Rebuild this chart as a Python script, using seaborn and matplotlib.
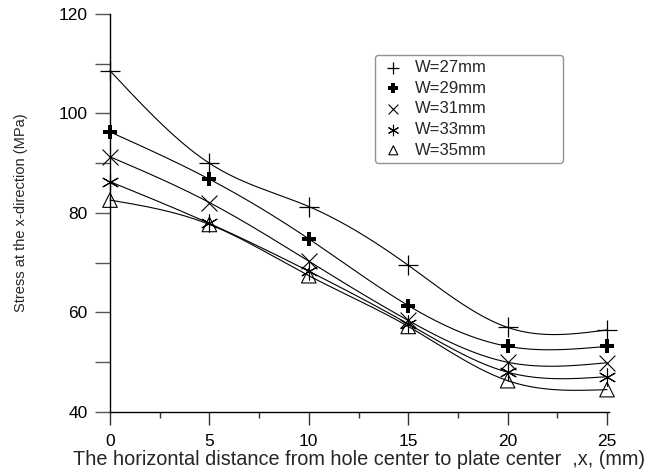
import numpy as np
import pandas as pd
import matplotlib
matplotlib.use("Agg")
import matplotlib.pyplot as plt
import seaborn as sns
from matplotlib.ticker import MultipleLocator

# ---------------- data ----------------
x_mm = [0, 5, 10, 15, 20, 25]
w27 = [108.6, 90.0, 81.3, 69.5, 57.0, 56.5]
w29 = [96.3, 86.8, 74.8, 61.4, 53.2, 53.2]
w31 = [91.3, 82.1, 70.3, 58.4, 50.0, 49.9]
w33 = [86.3, 77.9, 68.3, 57.7, 48.0, 47.1]
w35 = [82.6, 77.7, 67.4, 57.2, 46.3, 44.5]
labels = ["W=27mm", "W=29mm", "W=31mm", "W=33mm", "W=35mm"]
series = [w27, w29, w31, w33, w35]


def natural_spline(x, y, xs):
    x = np.asarray(x, float)
    y = np.asarray(y, float)
    n = len(x)
    h = np.diff(x)
    A = np.zeros((n, n))
    b = np.zeros(n)
    A[0, 0] = 1
    A[-1, -1] = 1
    for i in range(1, n - 1):
        A[i, i - 1] = h[i - 1]
        A[i, i] = 2 * (h[i - 1] + h[i])
        A[i, i + 1] = h[i]
        b[i] = 3 * ((y[i + 1] - y[i]) / h[i] - (y[i] - y[i - 1]) / h[i - 1])
    c = np.linalg.solve(A, b)
    out = np.empty_like(xs)
    for k, xv in enumerate(xs):
        i = min(max(np.searchsorted(x, xv) - 1, 0), n - 2)
        dx = xv - x[i]
        bi = (y[i + 1] - y[i]) / h[i] - h[i] * (2 * c[i] + c[i + 1]) / 3
        di = (c[i + 1] - c[i]) / (3 * h[i])
        out[k] = y[i] + bi * dx + c[i] * dx ** 2 + di * dx ** 3
    return out


sns.set_theme(style="ticks")
plt.rcParams["font.family"] = ["Liberation Sans", "DejaVu Sans"]

fig = plt.figure(figsize=(6.51, 4.75), dpi=100)
ax = fig.add_axes([110 / 651, 1 - 412 / 475, (609 - 110) / 651, (412 - 14) / 475])

xs = np.linspace(0, 25, 300)
for lab, ys in zip(labels, series):
    curve = pd.DataFrame({"x": xs, "y": natural_spline(x_mm, ys, xs)})
    sns.lineplot(data=curve, x="x", y="y", ax=ax, color="black", linewidth=0.8,
                 legend=False, clip_on=False)

marker_styles = {
    "W=27mm": dict(marker="+", s=190, linewidths=0.9, color="black"),
    "W=29mm": dict(marker="P", s=110, linewidths=0, color="black"),
    "W=31mm": dict(marker="x", s=130, linewidths=0.8, color="black"),
    "W=33mm": dict(marker=(6, 2, 0), s=150, linewidths=0.8, color="black"),
    "W=35mm": dict(marker="^", s=110, linewidths=0.8, facecolors="none",
                   edgecolors="black"),
}
for lab, ys in zip(labels, series):
    pts = pd.DataFrame({"x": x_mm, "y": ys})
    st = dict(marker_styles[lab])
    fc = st.pop("facecolors", None)
    ec = st.pop("edgecolors", None)
    if fc is not None:
        ax.scatter(pts["x"], pts["y"], facecolors=fc, edgecolors=ec, label=lab,
                   clip_on=False, zorder=3, **st)
    else:
        sns.scatterplot(data=pts, x="x", y="y", ax=ax, label=lab, clip_on=False,
                        zorder=3, **st)

ax.set_xlim(0, 25.1)
ax.set_ylim(40, 120)
ax.xaxis.set_major_locator(MultipleLocator(5))
ax.xaxis.set_minor_locator(MultipleLocator(2.5))
ax.yaxis.set_major_locator(MultipleLocator(20))
ax.yaxis.set_minor_locator(MultipleLocator(10))
for s in ["top", "right"]:
    ax.spines[s].set_visible(False)
for s in ["left", "bottom"]:
    ax.spines[s].set_linewidth(1.0)
    ax.spines[s].set_color("black")

ax.tick_params(axis="y", which="both", direction="out", length=11, width=1.0,
               color="#555555", labelsize=12.5, pad=5, labelcolor="black")
ax.tick_params(axis="x", which="major", direction="out", length=9.5, width=1.0,
               color="#333333", labelsize=12.5, pad=6, labelcolor="black")
ax.tick_params(axis="x", which="minor", direction="out", length=4.5, width=1.0,
               color="#333333")

ax.set_xlabel("The horizontal distance from hole center to plate center  ,x, (mm)",
              fontsize=14.3, labelpad=1)
ax.set_ylabel("Stress at the x-direction (MPa)", fontsize=10.5, labelpad=22)

leg = ax.legend(loc="upper left",
                bbox_to_anchor=(375 / 651, 1 - 55 / 475 - 0.01, (563 - 375) / 651, 0.01),
                bbox_transform=fig.transFigure, mode="expand", borderaxespad=0,
                fontsize=12, frameon=True, fancybox=True, handlelength=1.6,
                handletextpad=0.5, borderpad=0.3, labelspacing=0.34,
                markerscale=0.62)
leg.get_frame().set_edgecolor("#777777")
leg.get_frame().set_linewidth(1.0)

fig.savefig("out.png", dpi=100)
